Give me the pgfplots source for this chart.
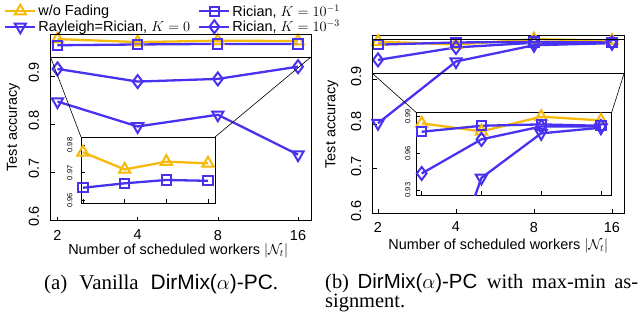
\documentclass[border=0pt]{standalone}
\usepackage{pgfplots}
\pgfplotsset{compat=1.18}
\usepackage{fontspec}
\setmainfont{Liberation Sans}
\newfontfamily\timesfont{Liberation Serif}
\newfontfamily\helv{Liberation Sans}
\definecolor{cOr}{RGB}{247,185,10}
\definecolor{cBl}{RGB}{72,50,240}
\pgfplotsset{
  base/.style={scale only axis, axis line style={line width=0.8bp, black}, tick style={line width=0.6bp, black},
    tick align=inside, xtick pos=bottom, ytick pos=left, major tick length=4bp,
    /pgf/number format/assume math mode=true,
    xtick={1,2,3,4}},
  mainax/.style={base, ticklabel style={font=\fontsize{14.5}{16}\selectfont},
    xticklabels={2,4,8,16},
    ytick={0.6,0.7,0.8,0.9}, yticklabels={0.6,0.7,0.8,0.9},
    xlabel={Number of scheduled workers $|\mathcal{N}_t|$},
    ylabel={Test accuracy}},
  inax/.style={base, axis background/.style={fill=white}, xticklabels={},
    ticklabel style={font=\fontsize{7.5}{8}\selectfont},
    yticklabel style={rotate=90, anchor=south}},
  sOr/.style={cOr, line width=2.3bp, mark=triangle, mark size=6.5bp, mark options={solid, line width=2bp}},
  sRay/.style={cBl, line width=2.3bp, mark=triangle, mark size=6.5bp, mark options={solid, rotate=180, line width=2bp}},
  sK1/.style={cBl, line width=2.3bp, mark=square, mark size=4.6bp, mark options={solid, line width=2bp}},
  sK3/.style={cBl, line width=2.3bp, mark=diamond, mark size=6.5bp, mark options={solid, line width=2bp}},
  legend image code/.code={\draw[mark repeat=2,mark phase=2,#1] plot coordinates {(0bp,0bp) (15bp,0bp) (30bp,0bp)};}
}
\begin{document}
\begin{tikzpicture}
\useasboundingbox (0,0) rectangle (640bp,-314bp);
% ---------------- left main
\begin{axis}[mainax, at={(50.5bp,-34bp)}, anchor=north west, width=260.5bp, height=186.5bp,
  xmin=0.913, xmax=4.162, ymin=0.6, ymax=0.988,
  xticklabel style={yshift=-6bp},
  yticklabel style={rotate=90, anchor=south, xshift=4bp, yshift=8bp},
  every axis y label/.style={at={(axis description cs:-0.142,0.5)}, rotate=90, anchor=center, font=\fontsize{14.5}{16}\selectfont},
  every axis x label/.style={at={(axis description cs:0.49,-0.164)}, anchor=center, font=\fontsize{14.5}{16}\selectfont},
  legend columns=2,
  legend style={at={(axis description cs:-0.19,1.18)}, anchor=north west, draw=none, fill=none,
    font=\fontsize{14.5}{14}\selectfont, row sep=-1.5bp, column sep=0bp,
    /tikz/every even column/.append style={column sep=6bp}},
  legend cell align=left]
\addplot[sOr] coordinates {(1,0.9774) (2,0.9712) (3,0.9740) (4,0.9734)};
\addlegendentry{w/o Fading}
\addplot[sK1] coordinates {(1,0.9646) (2,0.9662) (3,0.9674) (4,0.9671)};
\addlegendentry{Rician, $K=10^{-1}$}
\addplot[sRay] coordinates {(1,0.8475) (2,0.7956) (3,0.8200) (4,0.7370)};
\addlegendentry{Rayleigh=Rician, $K=0$}
\addplot[sK3] coordinates {(1,0.9154) (2,0.8890) (3,0.8946) (4,0.9200)};
\addlegendentry{Rician, $K=10^{-3}$}
\end{axis}
\draw[line width=0.8bp] (50.5bp,-34bp) rectangle (311bp,-57bp);
\draw[line width=0.6bp] (50.5bp,-57bp) -- (81bp,-137bp);
\draw[line width=0.6bp] (311bp,-57bp) -- (215bp,-137bp);
% ---------------- left inset
\begin{axis}[inax, at={(81bp,-137bp)}, anchor=north west, width=134bp, height=66bp,
  xmin=0.952, xmax=4.168, ymin=0.9591, ymax=0.9829,
  ytick={0.96,0.97,0.98}, yticklabels={0.96,0.97,0.98},
  yticklabel style={yshift=5bp}]
\addplot[sOr] coordinates {(1,0.9774) (2,0.9712) (3,0.9740) (4,0.9734)};
\addplot[sK1] coordinates {(1,0.9646) (2,0.9662) (3,0.9674) (4,0.9671)};
\end{axis}
% ---------------- right main
\begin{axis}[mainax, at={(372.7bp,-35bp)}, anchor=north west, width=251.3bp, height=178.5bp,
  xmin=0.932, xmax=4.154, ymin=0.6, ymax=0.9993,
  xticklabel style={yshift=-5bp},
  yticklabel style={rotate=90, anchor=south, xshift=2.5bp, yshift=8bp},
  every axis y label/.style={at={(axis description cs:-0.162,0.5)}, rotate=90, anchor=center, font=\fontsize{14.5}{16}\selectfont},
  every axis x label/.style={at={(axis description cs:0.5,-0.18)}, anchor=center, font=\fontsize{14.5}{16}\selectfont}]
\addplot[sOr] coordinates {(1,0.9846) (2,0.9780) (3,0.9900) (4,0.9870)};
\addplot[sK1] coordinates {(1,0.9777) (2,0.9826) (3,0.9837) (4,0.9826)};
\addplot[sRay] coordinates {(1,0.8020) (2,0.9400) (3,0.9764) (4,0.9810)};
\addplot[sK3] coordinates {(1,0.9436) (2,0.9715) (3,0.9820) (4,0.9820)};
\end{axis}
\draw[line width=0.8bp] (372.7bp,-39.7bp) rectangle (624bp,-73.7bp);
\draw[line width=0.6bp] (372.7bp,-73.7bp) -- (416bp,-112.3bp);
\draw[line width=0.6bp] (624bp,-73.7bp) -- (611.7bp,-112.3bp);
% ---------------- right inset
\begin{axis}[inax, at={(416bp,-112.3bp)}, anchor=north west, width=195.7bp, height=82.7bp,
  xmin=0.905, xmax=4.18, ymin=0.926, ymax=0.9936,
  ytick={0.93,0.96,0.99}, yticklabels={0.93,0.96,0.99},
  yticklabel style={yshift=2bp}]
\addplot[sOr] coordinates {(1,0.9846) (2,0.9780) (3,0.9900) (4,0.9870)};
\addplot[sK1] coordinates {(1,0.9777) (2,0.9826) (3,0.9837) (4,0.9826)};
\addplot[sRay] coordinates {(1,0.8020) (2,0.9400) (3,0.9764) (4,0.9810)};
\addplot[sK3] coordinates {(1,0.9436) (2,0.9715) (3,0.9820) (4,0.9820)};
\end{axis}
% ---------------- captions
\node[anchor=base west, inner sep=0] at (44bp,-289.5bp)
  {\fontsize{21}{16}\selectfont\makebox[234bp][s]{\timesfont (a) Vanilla \helv DirMix($\alpha$)-PC\timesfont.}};
\node[anchor=base west, inner sep=0] at (325bp,-288bp)
  {\fontsize{20.5}{16}\selectfont\makebox[313bp][s]{\timesfont (b) \helv DirMix($\alpha$)-PC \timesfont with max-min as-}};
\node[anchor=base west, inner sep=0] at (325bp,-307bp)
  {\fontsize{20.5}{16}\selectfont\timesfont signment.};
\end{tikzpicture}
\end{document}
